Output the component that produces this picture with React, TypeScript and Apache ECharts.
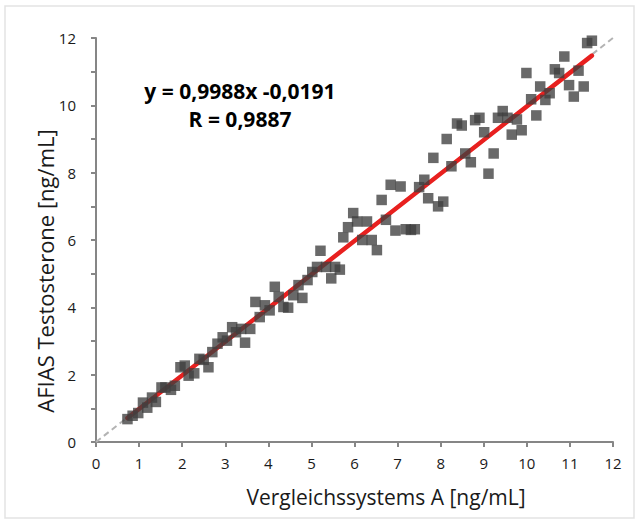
import React, { useEffect, useRef } from "react";
import * as echarts from "echarts";

// Measured values: [Vergleichssystems A, AFIAS]
const refX = [
  0.73, 0.85, 0.98, 1.09, 1.19, 1.3, 1.39, 1.52, 1.61, 1.74, 1.83, 1.96, 2.06, 2.15, 2.28,
  2.4, 2.5, 2.61, 2.7, 2.82, 2.94, 3.04, 3.16, 3.25, 3.37, 3.46, 3.58, 3.7, 3.8, 3.92,
  4.03, 4.15, 4.24, 4.35, 4.46, 4.58, 4.7, 4.79, 4.91, 5.02, 5.13, 5.21, 5.34, 5.46, 5.55,
  5.66, 5.74, 5.85, 5.97, 6.06, 6.18, 6.29, 6.4, 6.52, 6.63, 6.73, 6.84, 6.95, 7.07, 7.19,
  7.31, 7.4, 7.5, 7.62, 7.71, 7.83, 7.94, 8.06, 8.14, 8.25, 8.38, 8.49, 8.57, 8.7, 8.8,
  8.9, 9.01, 9.11, 9.23, 9.33, 9.44, 9.55, 9.65, 9.77, 9.88, 9.99, 10.1, 10.22, 10.31, 10.43,
  10.53, 10.65, 10.75, 10.87, 10.98, 11.09, 11.2, 11.32, 11.4, 11.51,
];
const afiasY = [
  0.68, 0.78, 0.86, 1.17, 1.02, 1.32, 1.19, 1.62, 1.62, 1.55, 1.67, 2.22, 2.27, 1.97, 2.04,
  2.47, 2.44, 2.22, 2.67, 2.92, 3.11, 3.01, 3.41, 3.26, 3.36, 2.95, 3.36, 4.16, 3.71, 4.06,
  3.91, 4.61, 4.31, 4.01, 3.99, 4.36, 4.66, 4.28, 4.81, 5.05, 5.2, 5.68, 5.2, 4.86, 5.2,
  5.12, 6.08, 6.38, 6.8, 6.55, 6.0, 6.55, 6.0, 5.7, 7.19, 6.6, 7.64, 6.28, 7.59, 6.32,
  6.3, 6.32, 7.57, 7.79, 7.24, 8.44, 7.0, 7.14, 9.0, 8.19, 9.46, 9.4, 8.57, 8.31, 9.56,
  9.63, 9.2, 7.97, 8.57, 9.63, 9.83, 9.63, 9.13, 9.58, 9.26, 10.96, 10.18, 9.7, 10.56, 10.16,
  10.36, 11.07, 10.96, 11.45, 10.6, 10.26, 11.03, 10.56, 11.85, 11.92,
];
const slope = 0.9988;
const intercept = -0.0191;
const identityLine = [0, 12];
const equationLines = ["y = 0,9988x -0,0191", "R = 0,9887"];
const xTitle = "Vergleichssystems A [ng/mL]";
const yTitle = "AFIAS Testosterone [ng/mL]";

const FONT = "'Open Sans', 'Noto Sans', sans-serif";

export default function App() {
  const ref = useRef<HTMLDivElement>(null);
  useEffect(() => {
    if (!ref.current) return;
    const chart = echarts.init(ref.current, undefined, { renderer: "svg" });
    const points = refX.map((x, i) => [x, afiasY[i]]);
    const xMin = Math.min(...refX);
    const xMax = Math.max(...refX);
    const regression = [
      [xMin, slope * xMin + intercept],
      [xMax, slope * xMax + intercept],
    ];
    const axisColor = "#868686";
    chart.setOption({
      animation: false,
      backgroundColor: "#ffffff",
      grid: { left: 96, right: 27, top: 38, bottom: 82, containLabel: false },
      graphic: [
        {
          type: "rect",
          shape: { x: 5, y: 6, width: 629, height: 512 },
          style: { fill: "none", stroke: "#e3e3e3", lineWidth: 1.5 },
          silent: true,
        },
        ...equationLines.map((t, i) => ({
          type: "text",
          x: 240,
          y: 91 + i * 28,
          style: {
            text: t,
            fontFamily: FONT,
            fontWeight: "bold",
            fontSize: 21,
            fill: "#000000",
            align: "center",
            verticalAlign: "middle",
          },
        })),
        {
          type: "text",
          x: 386,
          y: 497,
          style: {
            text: xTitle,
            fontFamily: FONT,
            fontSize: 21,
            fill: "#1a1a1a",
            align: "center",
            verticalAlign: "middle",
          },
        },
        {
          type: "text",
          x: 45,
          y: 271,
          rotation: Math.PI / 2,
          style: {
            text: yTitle,
            fontFamily: FONT,
            fontSize: 22,
            fill: "#1a1a1a",
            align: "center",
            verticalAlign: "middle",
          },
        },
      ],
      xAxis: {
        type: "value",
        min: 0,
        max: 12,
        interval: 1,
        axisLine: { show: true, onZero: false, lineStyle: { color: axisColor, width: 2 } },
        axisTick: { show: true, length: 5, lineStyle: { color: axisColor, width: 2 } },
        axisLabel: { fontFamily: FONT, fontSize: 15, color: "#1a1a1a", margin: 13 },
        splitLine: { show: false },
      },
      yAxis: {
        type: "value",
        min: 0,
        max: 12,
        interval: 1,
        axisLine: { show: true, onZero: false, lineStyle: { color: axisColor, width: 2 } },
        axisTick: { show: true, length: 5, lineStyle: { color: axisColor, width: 2 } },
        axisLabel: {
          fontFamily: FONT,
          fontSize: 15,
          color: "#1a1a1a",
          margin: 20,
          formatter: (v: number) => (v % 2 === 0 ? String(v) : ""),
        },
        splitLine: { show: false },
      },
      series: [
        {
          type: "line",
          data: identityLine.map((v) => [v, v]),
          symbol: "none",
          lineStyle: { color: "#b3b3b3", width: 2, type: [6, 4] },
          z: 1,
          silent: true,
        },
        {
          type: "line",
          data: regression,
          symbol: "none",
          lineStyle: { color: "#e8201f", width: 4.5, cap: "round" },
          z: 2,
          silent: true,
        },
        {
          type: "scatter",
          data: points,
          symbol: "rect",
          symbolSize: 10.5,
          itemStyle: { color: "#3f3f3f", opacity: 0.78 },
          z: 3,
        },
      ],
    });
    return () => chart.dispose();
  }, []);
  return (
    <div
      ref={ref}
      style={{ position: "fixed", left: 0, top: 0, width: 640, height: 524 }}
    />
  );
}
